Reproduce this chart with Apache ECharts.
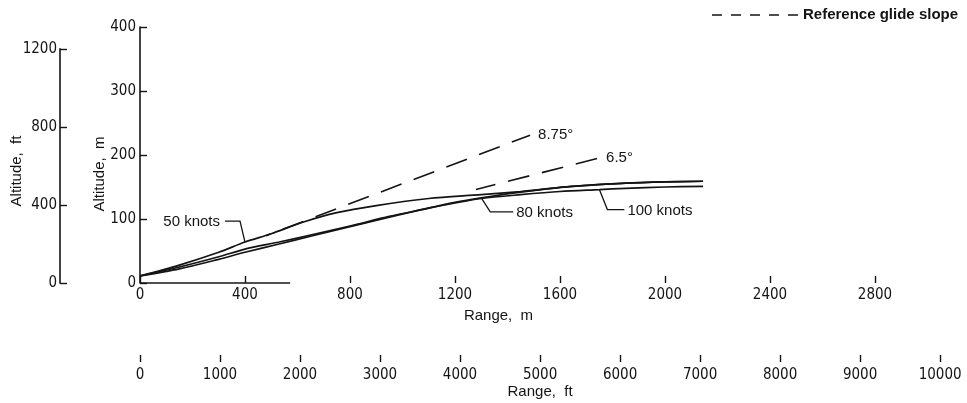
<!DOCTYPE html>
<html>
<head>
<meta charset="utf-8">
<script src="https://cdn.jsdelivr.net/npm/echarts@6/dist/echarts.min.js"></script>
<style>
  html, body { margin: 0; padding: 0; background: #fff; }
  #chart { width: 967px; height: 403px; }
</style>
</head>
<body>
<div id="chart"></div>
<script>
// Approach trajectories: [range (m), altitude (m)]
const knots50 = [[0, 11], [150, 28], [300, 48], [400, 64], [500, 77], [620, 95], [750, 110], [900, 121], [1100, 132], [1300, 138], [1450, 143], [1650, 151], [1850, 156], [2000, 158], [2145, 159]];
const knots80 = [[0, 11], [150, 25], [300, 41], [400, 53], [530, 64], [650, 75], [800, 89], [950, 104], [1100, 117], [1200, 126], [1300, 133], [1450, 142], [1640, 151], [1850, 156], [2000, 158], [2145, 159]];
const knots100 = [[0, 11], [150, 22], [300, 37], [400, 48], [530, 61], [650, 73], [800, 88], [950, 103], [1100, 117], [1200, 125], [1300, 132], [1450, 138], [1600, 143], [1750, 146], [1850, 148], [2000, 150], [2145, 151]];

// Reference glide slopes (visible portions)
const glide875 = [[480, 74], [1486, 231]];
const glide65 = [[1280, 146], [1745, 195]];

// Tick values
const rangeMTicks = [0, 400, 800, 1200, 1600, 2000, 2400, 2800];
const altMTicks = [0, 100, 200, 300, 400];
const altFtTicks = [0, 400, 800, 1200];
const rangeFtTicks = [0, 1000, 2000, 3000, 4000, 5000, 6000, 7000, 8000, 9000, 10000];

// Labels
const seriesNames = ['50 knots', '80 knots', '100 knots'];
const glideNames = ['8.75°', '6.5°'];
const legendText = 'Reference glide slope';

const FT = 0.3048;
const INK = '#141414';
const NUM_FONT = "'Liberation Sans Narrow', 'DejaVu Sans Condensed', 'Liberation Sans', sans-serif";
const TXT_FONT = "'Liberation Sans', Arial, sans-serif";

// Layout: metres-based plot
const X0 = 140, Y0 = 283;          // origin of the metre plot
const PX_PER_M_X = 0.2625;
const PX_PER_M_Y = 0.64;
const mMaxX = rangeMTicks[rangeMTicks.length - 1];
const mMaxY = altMTicks[altMTicks.length - 1];
const ftMaxY = altFtTicks[altFtTicks.length - 1];
const ftMaxX = rangeFtTicks[rangeFtTicks.length - 1];

const mainW = mMaxX * PX_PER_M_X;
const mainH = mMaxY * PX_PER_M_Y;
const ftH = ftMaxY * FT * PX_PER_M_Y;
const ftW = ftMaxX * FT * PX_PER_M_X;
const FT_AXIS_Y = 362;

const numLabel = (margin) => ({
  fontFamily: NUM_FONT, fontSize: 15, color: INK, margin: margin,
  formatter: (v) => String(v)
});

const tickStyle = { show: true, inside: true, length: 7, lineStyle: { color: INK, width: 1.4 } };

const chart = echarts.init(document.getElementById('chart'), null, { renderer: 'canvas' });

const solid = (name, data) => ({
  name, type: 'line', xAxisIndex: 0, yAxisIndex: 0, data,
  smooth: 0.3, showSymbol: false, symbol: 'none',
  lineStyle: { color: INK, width: 1.7 }, z: 3
});

const dashed = (name, data, offset) => ({
  name, type: 'line', xAxisIndex: 0, yAxisIndex: 0, data,
  showSymbol: false, symbol: 'none',
  lineStyle: { color: INK, width: 1.6, type: [22, 13], dashOffset: offset },
  endLabel: { show: true, formatter: name, distance: 8, color: INK, fontFamily: TXT_FONT, fontSize: 15 },
  z: 2
});

chart.setOption({
  animation: false,
  backgroundColor: '#fff',
  grid: [
    { left: X0, top: Y0 - mainH, width: mainW, height: mainH },
    { left: 60, top: Y0 - ftH, width: 2, height: ftH },
    { left: X0, top: FT_AXIS_Y - 40, width: ftW, height: 40 }
  ],
  xAxis: [
    {
      type: 'value', gridIndex: 0, min: rangeMTicks[0], max: mMaxX, interval: rangeMTicks[1] - rangeMTicks[0],
      axisLine: { show: false }, axisTick: tickStyle, splitLine: { show: false },
      axisLabel: numLabel(5),
      name: 'Range,  m', nameLocation: 'middle', nameGap: 21,
      nameTextStyle: { fontFamily: TXT_FONT, fontSize: 15, color: INK, padding: [0, 18, 0, 0] }
    },
    { type: 'value', gridIndex: 1, show: false, min: 0, max: 1 },
    {
      type: 'value', gridIndex: 2, min: rangeFtTicks[0], max: ftMaxX, interval: rangeFtTicks[1] - rangeFtTicks[0],
      axisLine: { show: false }, axisTick: tickStyle, splitLine: { show: false },
      axisLabel: numLabel(6),
      name: 'Range,  ft', nameLocation: 'middle', nameGap: 19,
      nameTextStyle: { fontFamily: TXT_FONT, fontSize: 15, color: INK }
    }
  ],
  yAxis: [
    {
      type: 'value', gridIndex: 0, min: altMTicks[0], max: mMaxY, interval: altMTicks[1] - altMTicks[0],
      axisLine: { show: true, lineStyle: { color: INK, width: 1.6 } }, axisTick: tickStyle,
      splitLine: { show: false }, axisLabel: numLabel(4)
    },
    {
      type: 'value', gridIndex: 1, min: altFtTicks[0], max: ftMaxY, interval: altFtTicks[1] - altFtTicks[0],
      axisLine: { show: true, lineStyle: { color: INK, width: 1.6 } }, axisTick: tickStyle,
      splitLine: { show: false }, axisLabel: numLabel(3)
    },
    { type: 'value', gridIndex: 2, show: false, min: 0, max: 1 }
  ],
  series: [
    solid(seriesNames[0], knots50),
    solid(seriesNames[1], knots80),
    solid(seriesNames[2], knots100),
    dashed(glideNames[0], glide875, 17),
    dashed(glideNames[1], glide65, 2)
  ]
});

// Annotations anchored to curve points
const px = (pt) => chart.convertToPixel({ gridIndex: 0 }, pt);
const graphics = [];

function leader(anchor, bend, endDx, label, align) {
  const a = px(anchor);
  const b = [a[0] + bend[0], a[1] + bend[1]];
  const c = [b[0] + endDx, b[1]];
  graphics.push({
    type: 'polyline', silent: true,
    shape: { points: [a, b, c] },
    style: { stroke: INK, lineWidth: 1.3, fill: null }
  });
  graphics.push({
    type: 'text', silent: true,
    x: c[0] + (align === 'right' ? -5 : 3), y: c[1] + 1,
    style: { text: label, fontFamily: TXT_FONT, fontSize: 15, fill: INK, align: align, verticalAlign: 'middle' }
  });
}

leader(knots50[3], [-5, -21], -15, seriesNames[0], 'right');
leader(knots80[10], [9, 14], 23, seriesNames[1], 'left');
leader(knots100[13], [8, 20], 17, seriesNames[2], 'left');

// Partial baseline of the metre range axis
const base0 = px([0, 0]);
const base1 = px([572, 0]);
graphics.push({
  type: 'line', silent: true,
  shape: { x1: base0[0], y1: base0[1], x2: base1[0], y2: base1[1] },
  style: { stroke: INK, lineWidth: 1.6 }
});

// Axis titles for the altitude scales
graphics.push({
  type: 'text', silent: true, x: 100, y: 174, rotation: Math.PI / 2,
  style: { text: 'Altitude,  m', fontFamily: TXT_FONT, fontSize: 15, fill: INK, align: 'center', verticalAlign: 'middle' }
});
graphics.push({
  type: 'text', silent: true, x: 17, y: 171, rotation: Math.PI / 2,
  style: { text: 'Altitude,  ft', fontFamily: TXT_FONT, fontSize: 15, fill: INK, align: 'center', verticalAlign: 'middle' }
});

// Key for the dashed lines
graphics.push({
  type: 'line', silent: true,
  shape: { x1: 712, y1: 15, x2: 800, y2: 15 },
  style: { stroke: INK, lineWidth: 1.3, lineDash: [10, 9] }
});
graphics.push({
  type: 'text', silent: true, x: 803, y: 15,
  style: { text: legendText, fontFamily: TXT_FONT, fontSize: 15, fontWeight: 'bold', fill: INK, align: 'left', verticalAlign: 'middle' }
});

chart.setOption({ graphic: graphics });
</script>
</body>
</html>
